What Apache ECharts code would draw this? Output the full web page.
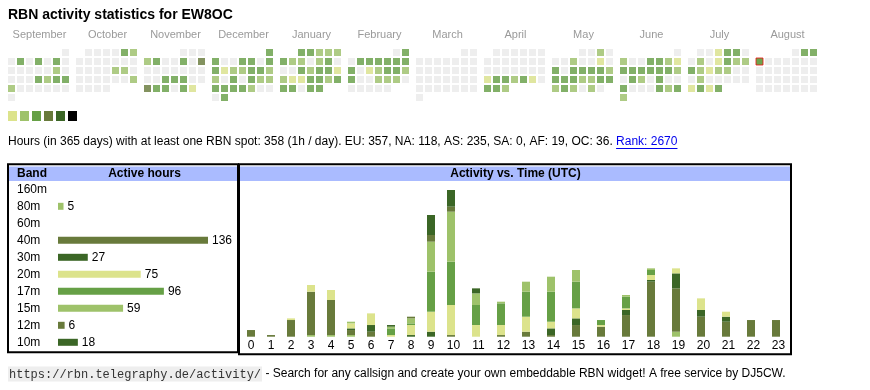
<!DOCTYPE html>
<html><head><meta charset="utf-8">
<script src="https://cdn.jsdelivr.net/npm/echarts@6/dist/echarts.min.js"></script>
<style>html,body{margin:0;padding:0;background:#fff}#c{width:870px;height:390px}</style>
</head><body><div id="c"></div>
<script>
// ---------- DATA ----------
const TITLE = 'RBN activity statistics for EW8OC';
const MONTHS = ['2024-09','2024-10','2024-11','2024-12','2025-01','2025-02','2025-03','2025-04','2025-05','2025-06','2025-07','2025-08'];
const MONTH_NAMES = ['September','October','November','December','January','February','March','April','May','June','July','August'];
// activity level per day of month (0 = no activity, 1..5 = colour step)
const LEVELS_2024_09 = [0, 0,3,0,3,0,3,0, 0,0,0,0,0,2,0, 0,0,0,3,2,3,3, 2,0,0,0,0,0,0, 0];
const LEVELS_2024_10 = [0,0,0,0,3,2, 0,0,0,0,0,0,0, 0,0,0,0,2,2,0, 0,0,0,0,0,0,2, 0,0,0,0];
const LEVELS_2024_11 = [0,0,0, 2,3,0,0,3,0,4, 0,0,0,0,0,0,0, 0,0,3,3,3,0,0, 4,3,3,0,3,1];
const LEVELS_2024_12 = [3, 3,0,0,3,3,0,3, 3,1,2,2,3,3,2, 2,0,3,0,3,2,2, 3,3,3,3,2,0,0, 0,3];
const LEVELS_2025_01 = [3,3,2,2,2, 3,2,2,0,2,3,0, 0,0,3,2,3,3,1, 2,1,1,3,3,2,3, 3,3,0,3,3];
const LEVELS_2025_02 = [0,3, 0,3,3,3,3,3,3, 3,0,1,2,3,3,2, 3,0,0,2,2,2,0, 0,0,0,0,0];
const LEVELS_2025_03 = [0,0, 0,0,0,0,0,0,0, 0,0,0,0,0,0,0, 0,0,0,0,0,0,0, 0,0,0,0,0,0,0, 0];
const LEVELS_2025_04 = [0,0,0,0,0,0, 0,0,0,0,0,0,0, 0,0,0,0,0,0,0, 1,3,3,2,3,1,0, 3,3,2];
const LEVELS_2025_05 = [0,0,2,0, 0,0,2,0,0,1,0, 3,0,3,3,3,3,2, 3,3,3,2,2,3,3, 2,3,2,0,2,0];
const LEVELS_2025_06 = [0, 2,0,0,3,3,2,1, 3,3,3,3,3,3,2, 0,3,2,0,3,0,0, 3,0,0,0,3,2,3, 2];
const LEVELS_2025_07 = [0,0,1,3,3,0, 0,2,0,1,3,2,2, 3,2,1,2,2,0,0, 0,2,0,0,0,0,0, 1,3,1,3];
const LEVELS_2025_08 = [0,3,3,3, 0,0,0,0,0,0,0, 0,0,0,0,0,0,0, 0,0,0,0,0,0,0, 0,0,0,0,0,0];
const TODAY = '2025-08-04';

const INFO_TEXT = 'Hours (in 365 days) with at least one RBN spot: 358 (1h / day). EU: 357, NA: 118, AS: 235, SA: 0, AF: 19, OC: 36. ';
const RANK_TEXT = 'Rank: 2670';
const FOOT_URL = 'https://rbn.telegraphy.de/activity/';
const FOOT_TEXT = ' - Search for any callsign and create your own embeddable RBN widget! A free service by DJ5CW.';

const BANDS = ['160m','80m','60m','40m','30m','20m','17m','15m','12m','10m'];
const BAND_HOURS = [0, 5, 0, 136, 27, 75, 96, 59, 6, 18];

const HOURS = ['0','1','2','3','4','5','6','7','8','9','10','11','12','13','14','15','16','17','18','19','20','21','22','23'];
const H_160M = [0,0,0,0,0,0,0,0,0,0,0,0,0,0,0,0,0,0,0,0,0,0,0,0];
const H_80M  = [0,0,0,1,1,1,0,0,0,0,0,0,0,0,0,0,0,0,0,3,0,0,0,0];
const H_60M  = [0,0,0,0,0,0,0,0,0,0,0,0,0,0,0,0,0,0,0,0,0,0,0,0];
const H_40M  = [4,1,10,26,21,3,3,0,0,0,1,0,1,3,1,7,6,13,33,26,12,9,10,10];
const H_30M  = [0,0,0,0,0,1,4,0,1,3,0,0,0,0,4,4,0,3,1,9,4,3,0,0];
const H_20M  = [0,0,1,4,6,3,7,1,6,12,18,7,6,9,4,6,1,1,3,3,7,3,0,0];
const H_17M  = [0,0,0,0,0,0,0,4,1,24,26,12,13,15,18,16,3,7,3,0,0,0,0,0];
const H_15M  = [0,0,0,0,0,1,0,1,3,18,30,7,1,6,9,7,0,1,1,0,0,0,0,0];
const H_12M  = [0,0,0,0,0,0,0,0,1,4,3,0,0,0,0,0,0,0,0,0,0,0,0,0];
const H_10M  = [0,0,0,0,0,0,0,1,0,12,10,3,0,0,0,0,0,0,0,0,0,0,0,0];

// ---------- STYLE ----------
const FONT = '"Liberation Sans", Arial, Helvetica, sans-serif';
const PALETTE = ['#dce38c','#9ec26a','#66a046','#687a3b','#3b6626','#000000'];
const BAND_COLORS = ['#66a046','#9ec26a','#66a046','#687a3b','#3b6626','#dce38c','#66a046','#9ec26a','#687a3b','#3b6626'];

const LEVELS = [LEVELS_2024_09,LEVELS_2024_10,LEVELS_2024_11,LEVELS_2024_12,LEVELS_2025_01,LEVELS_2025_02,LEVELS_2025_03,LEVELS_2025_04,LEVELS_2025_05,LEVELS_2025_06,LEVELS_2025_07,LEVELS_2025_08];
const HOURLY = [H_160M,H_80M,H_60M,H_40M,H_30M,H_20M,H_17M,H_15M,H_12M,H_10M];

const CAL_LEFT0 = 7, CAL_STEP = 68, CAL_TOP = 48, CELL = 9;

const chart = echarts.init(document.getElementById('c'), null, {renderer:'canvas'});

const calendars = MONTHS.map((m, i) => ({
  orient: 'vertical', range: m, cellSize: [CELL, CELL],
  left: CAL_LEFT0 + CAL_STEP * i, top: CAL_TOP,
  splitLine: {show: false},
  dayLabel: {show: false, firstDay: 1},
  monthLabel: {show: false},
  yearLabel: {show: false},
  itemStyle: {color: '#eeeeee', borderColor: '#ffffff', borderWidth: 2}
}));

const series = [];
MONTHS.forEach((m, i) => {
  const data = [];
  LEVELS[i].forEach((lv, d) => {
    if (lv > 0) data.push({value: [m + '-' + String(d + 1).padStart(2, '0'), lv], itemStyle: {color: PALETTE[lv - 1]}});
  });
  series.push({type: 'scatter', coordinateSystem: 'calendar', calendarIndex: i, symbol: 'rect', symbolSize: 7, silent: true, data: data});
});
// today marker
(function(){
  const mi = MONTHS.indexOf(TODAY.slice(0, 7));
  const lv = LEVELS[mi][parseInt(TODAY.slice(8), 10) - 1];
  series.push({type: 'scatter', coordinateSystem: 'calendar', calendarIndex: mi, symbol: 'rect', symbolSize: 7, silent: true, z: 5,
    data: [{value: [TODAY, lv], itemStyle: {color: PALETTE[Math.max(lv,1) - 1], borderColor: '#ee1111', borderWidth: 1}}]});
})();

// band bar chart
series.push({
  type: 'bar', xAxisIndex: 0, yAxisIndex: 0, barWidth: 7, silent: true,
  data: BAND_HOURS.map((v, i) => ({value: v, itemStyle: {color: BAND_COLORS[i]}})),
  label: {show: true, position: 'right', distance: 4, color: '#000', fontSize: 12, fontFamily: FONT,
    formatter: p => (p.value > 0 ? String(p.value) : '')}
});
// hourly stacked bars (two grids: single-digit and double-digit hour columns)
HOURLY.forEach((arr, b) => {
  series.push({type: 'bar', xAxisIndex: 1, yAxisIndex: 1, stack: 'a', barWidth: 8, silent: true,
    itemStyle: {color: BAND_COLORS[b]}, name: BANDS[b], data: arr.slice(0, 10)});
  series.push({type: 'bar', xAxisIndex: 2, yAxisIndex: 2, stack: 'b', barWidth: 8, silent: true,
    itemStyle: {color: BAND_COLORS[b]}, name: BANDS[b], data: arr.slice(10)});
});

const hourAxisBase = {type: 'category', axisLine: {show: false}, axisTick: {show: false}, splitLine: {show: false},
  axisLabel: {color: '#000', fontSize: 12, fontFamily: FONT, margin: 3}};

// measure text for underline of link
const ctx = document.createElement('canvas').getContext('2d');
ctx.font = '12px ' + FONT;
const infoW = ctx.measureText(INFO_TEXT).width;
const rankW = ctx.measureText(RANK_TEXT).width;

const graphics = [];
graphics.push({type: 'text', x: 8, y: 15.5, style: {text: TITLE, font: 'bold 14px ' + FONT, fill: '#000', verticalAlign: 'middle'}});
MONTH_NAMES.forEach((n, i) => {
  graphics.push({type: 'text', x: CAL_LEFT0 + CAL_STEP * i + 32.5, y: 35, style: {text: n, font: '11px ' + FONT, fill: '#9a9a9a', align: 'center', verticalAlign: 'middle'}});
});
PALETTE.forEach((c, i) => {
  graphics.push({type: 'rect', shape: {x: 8 + 12 * i, y: 111, width: 9, height: 10}, style: {fill: c}});
});
graphics.push({type: 'text', x: 8, y: 142, style: {
  text: '{a|' + INFO_TEXT + '}{l|' + RANK_TEXT + '}', verticalAlign: 'middle',
  rich: {a: {font: '12px ' + FONT, fill: '#000'}, l: {font: '12px ' + FONT, fill: '#0000ee'}}}});
graphics.push({type: 'line', shape: {x1: 8 + infoW, y1: 148.5, x2: 8 + infoW + rankW, y2: 148.5}, style: {stroke: '#0000ee', lineWidth: 1}});
// boxes
graphics.push({type: 'rect', shape: {x: 9, y: 166.5, width: 228, height: 14.5}, style: {fill: '#aabbff'}});
graphics.push({type: 'rect', shape: {x: 240, y: 166.5, width: 550, height: 14.5}, style: {fill: '#aabbff'}});
graphics.push({type: 'rect', shape: {x: 8, y: 164.3, width: 230, height: 188}, style: {fill: 'none', stroke: '#000', lineWidth: 2}});
graphics.push({type: 'rect', shape: {x: 239, y: 164.3, width: 552, height: 190}, style: {fill: 'none', stroke: '#000', lineWidth: 2}});
graphics.push({type: 'text', x: 17, y: 173.5, style: {text: 'Band', font: 'bold 12px ' + FONT, fill: '#000', verticalAlign: 'middle'}});
graphics.push({type: 'text', x: 144.5, y: 173.5, style: {text: 'Active hours', font: 'bold 12px ' + FONT, fill: '#000', align: 'center', verticalAlign: 'middle'}});
graphics.push({type: 'text', x: 515.5, y: 173.5, style: {text: 'Activity vs. Time (UTC)', font: 'bold 12px ' + FONT, fill: '#000', align: 'center', verticalAlign: 'middle'}});
// footer
graphics.push({type: 'text', x: 8, y: 374, style: {
  text: '{u|' + FOOT_URL + '}{t|' + FOOT_TEXT + '}', verticalAlign: 'middle',
  rich: {u: {font: '12px "Liberation Mono", "DejaVu Sans Mono", monospace', fill: '#333', backgroundColor: '#eeeeee', padding: [2, 1, 1, 1]},
         t: {font: '12px ' + FONT, fill: '#000'}}}});

const option = {
  animation: false,
  textStyle: {fontFamily: FONT},
  calendar: calendars,
  grid: [
    {left: 58, top: 180.8, width: 150, height: 170},
    {left: 241, top: 190, width: 200, height: 146.7},
    {left: 438.5, top: 190, width: 350, height: 146.7}
  ],
  xAxis: [
    {gridIndex: 0, type: 'value', min: 0, max: 136, show: false},
    Object.assign({}, hourAxisBase, {gridIndex: 1, data: HOURS.slice(0, 10)}),
    Object.assign({}, hourAxisBase, {gridIndex: 2, data: HOURS.slice(10),
      axisLabel: Object.assign({}, hourAxisBase.axisLabel, {padding: [0, 0, 0, 5]})})
  ],
  yAxis: [
    {gridIndex: 0, type: 'category', inverse: true, data: BANDS, axisLine: {show: false}, axisTick: {show: false}, splitLine: {show: false},
      axisLabel: {color: '#000', fontSize: 12, fontFamily: FONT, align: 'left', margin: 41}},
    {gridIndex: 1, type: 'value', min: 0, max: 88, show: false},
    {gridIndex: 2, type: 'value', min: 0, max: 88, show: false}
  ],
  series: series,
  graphic: graphics
};
chart.setOption(option);
</script>
</body></html>
